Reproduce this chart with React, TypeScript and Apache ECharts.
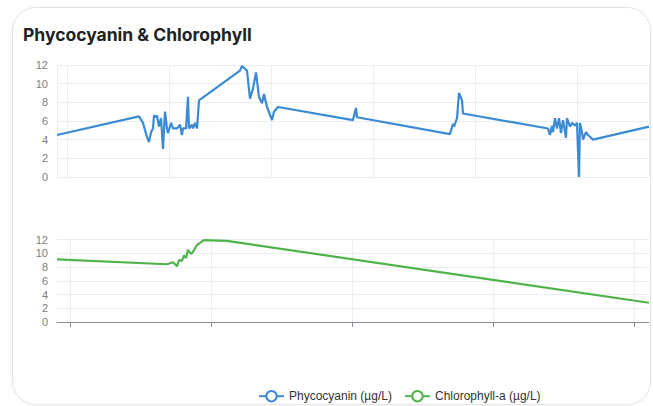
import React, { useEffect, useRef } from "react";
import * as echarts from "echarts";

const titleText = "Phycocyanin & Chlorophyll";
const seriesNames = ["Phycocyanin (µg/L)", "Chlorophyll-a (µg/L)"];
const yTicks = [0, 2, 4, 6, 8, 10, 12];

// x positions (time units) and values for phycocyanin
const pcX = [
  -0.098, 0.706, 0.745, 0.784, 0.804, 0.824, 0.843, 0.853, 0.873, 0.882, 0.902, 0.922, 0.941, 0.961,
  0.98, 0.99, 1.02, 1.039, 1.078, 1.108, 1.127, 1.137, 1.167, 1.186, 1.196, 1.225, 1.235, 1.255,
  1.275, 1.294, 1.696, 1.716, 1.765, 1.794, 1.824, 1.853, 1.882, 1.912, 1.931, 1.961, 2.01, 2.029,
  2.069, 2.804, 2.833, 2.843, 3.755, 3.784, 3.794, 3.824, 3.843, 3.873, 3.882, 4.716, 4.735, 4.755,
  4.765, 4.784, 4.804, 4.824, 4.843, 4.863, 4.892, 4.902, 4.931, 4.951, 4.98, 5.0, 5.02, 5.029,
  5.049, 5.059, 5.088, 5.108, 5.157, 5.706,
];
const pcY = [
  4.5, 6.5, 5.8, 4.3, 3.75, 4.8, 5.2, 6.6, 6.4, 6.6, 5.4, 6.3, 3.0, 7.0,
  5.2, 4.7, 5.8, 5.2, 5.2, 5.6, 4.5, 5.2, 5.2, 8.6, 5.2, 5.6, 5.2, 5.8,
  5.2, 8.2, 11.4, 11.9, 11.4, 8.4, 9.5, 11.2, 8.6, 7.9, 8.9, 7.5, 6.1, 7.0,
  7.5, 6.1, 7.4, 6.4, 4.6, 5.7, 5.4, 6.3, 9.0, 8.2, 6.8, 5.2, 4.5, 5.5,
  4.8, 6.3, 5.2, 6.3, 4.7, 6.1, 4.2, 6.3, 5.4, 5.8, 5.5, 5.8, 0, 5.8,
  4.8, 4.0, 4.8, 4.5, 4.0, 5.4,
];

// x positions (time units) and values for chlorophyll-a
const chlX = [-0.092, 0.688, 0.73, 0.759, 0.773, 0.794, 0.809, 0.823, 0.837, 0.858, 0.872, 0.901, 0.922, 0.95, 1.113, 4.106];
const chlY = [9.1, 8.4, 8.7, 8.1, 9.0, 8.9, 9.7, 9.3, 10.5, 9.9, 10.2, 11.2, 11.5, 11.9, 11.8, 2.8];

const BLUE = "#3b8bd4";
const GREEN = "#4fb34a";

export default function App() {
  const ref = useRef<HTMLDivElement>(null);
  useEffect(() => {
    if (!ref.current) return;
    const chart = echarts.init(ref.current, undefined, { renderer: "svg" });
    const splitLine = { show: true, lineStyle: { color: "#e9edf4", width: 1 } };
    const yLabel = { color: "#7d7d7d", fontSize: 11, fontFamily: "Liberation Sans, Arial, sans-serif", margin: 9 };
    chart.setOption({
      animation: false,
      title: {
        text: titleText,
        left: 18,
        top: 20,
        textStyle: { fontSize: 17.5, fontWeight: "bold", color: "#222", fontFamily: "Inter, Roboto, sans-serif" },
      },
      legend: {
        left: 253,
        top: 385,
        itemGap: 12,
        itemWidth: 25,
        itemHeight: 13,
        textStyle: { fontSize: 12, color: "#333", fontFamily: "Liberation Sans, Arial, sans-serif" },
        data: seriesNames,
      },
      grid: [
        { left: 57, right: 4, top: 65, height: 112 },
        { left: 57, right: 4, top: 239.5, height: 82.5 },
      ],
      xAxis: [
        {
          type: "value",
          gridIndex: 0,
          min: pcX[0],
          max: pcX[pcX.length - 1],
          minInterval: 1,
          maxInterval: 1,
          axisLabel: { show: false },
          axisLine: { show: false },
          axisTick: { show: false },
          splitLine,
        },
        {
          type: "value",
          gridIndex: 1,
          min: chlX[0],
          max: chlX[chlX.length - 1],
          minInterval: 1,
          maxInterval: 1,
          axisLabel: { show: false },
          axisLine: { show: true, onZero: false, lineStyle: { color: "#8a8d95", width: 1 } },
          axisTick: { show: true, length: 5, customValues: [0, 1, 2, 3, 4], lineStyle: { color: "#8a8d95" } },
          splitLine,
        },
      ],
      yAxis: [
        {
          type: "value",
          gridIndex: 0,
          min: yTicks[0],
          max: yTicks[yTicks.length - 1],
          interval: 2,
          axisLabel: yLabel,
          axisLine: { show: false },
          axisTick: { show: false },
          splitLine,
        },
        {
          type: "value",
          gridIndex: 1,
          min: yTicks[0],
          max: yTicks[yTicks.length - 1],
          interval: 2,
          axisLabel: yLabel,
          axisLine: { show: false },
          axisTick: { show: false },
          splitLine,
        },
      ],
      series: [
        {
          name: seriesNames[0],
          type: "line",
          xAxisIndex: 0,
          yAxisIndex: 0,
          showSymbol: false,
          symbol: "emptyCircle",
          symbolSize: 10,
          color: BLUE,
          lineStyle: { width: 2.2, color: BLUE },
          data: pcX.map((x, i) => [x, pcY[i]]),
        },
        {
          name: seriesNames[1],
          type: "line",
          xAxisIndex: 1,
          yAxisIndex: 1,
          showSymbol: false,
          symbol: "emptyCircle",
          symbolSize: 10,
          color: GREEN,
          lineStyle: { width: 2.2, color: GREEN },
          data: chlX.map((x, i) => [x, chlY[i]]),
        },
      ],
    });
    return () => chart.dispose();
  }, []);
  return (
    <div style={{ position: "fixed", left: 0, top: 0, width: 653, height: 406, background: "#fff", overflow: "hidden" }}>
      <div
        style={{
          position: "absolute",
          left: 12,
          top: 7,
          width: 637,
          height: 396,
          border: "1.5px solid #e4e4e4",
          borderRadius: 24,
          boxShadow: "0 0 3px rgba(0,0,0,0.06)",
        }}
      />
      <div ref={ref} style={{ position: "absolute", left: 0, top: 0, width: 653, height: 406 }} />
    </div>
  );
}
